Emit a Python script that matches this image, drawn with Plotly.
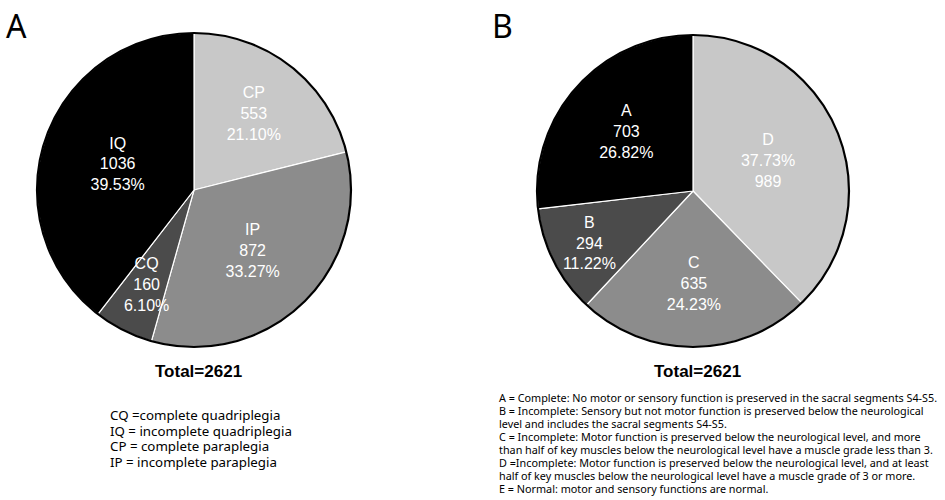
import plotly.graph_objects as go

# ---- data ----
labels_a = ["CP", "IP", "CQ", "IQ"]
values_a = [553, 872, 160, 1036]
labels_b = ["D", "C", "B", "A"]
values_b = [989, 635, 294, 703]
colors = ["#c8c8c8", "#8c8c8c", "#4b4b4b", "#000000"]
total_a = "Total=2621"
total_b = "Total=2621"
legend_a = [
    "CQ =complete quadriplegia",
    "IQ = incomplete quadriplegia",
    "CP = complete paraplegia",
    "IP = incomplete paraplegia",
]
legend_b = [
    "A = Complete: No motor or sensory function is preserved in the sacral segments S4-S5.",
    "B = Incomplete: Sensory but not motor function is preserved below the neurological",
    "level and includes the sacral segments S4-S5.",
    "C = Incomplete: Motor function is preserved below the neurological level, and more",
    "than half of key muscles below the neurological level have a muscle grade less than 3.",
    "D =Incomplete: Motor function is preserved below the neurological level, and at least",
    "half of key muscles below the neurological level have a muscle grade of 3 or more.",
    "E = Normal: motor and sensory functions are normal.",
]

W, H = 945, 500

def dom(cx, cy, r):
    return dict(x=[(cx - r) / W, (cx + r) / W], y=[1 - (cy + r) / H, 1 - (cy - r) / H])

CA, RA = (194, 190), 157
CB, RB = (693, 191), 156
dom_a = dom(CA[0], CA[1], RA)
dom_b = dom(CB[0], CB[1], RB)
dom_a_small = dom(CA[0], CA[1], RA * 0.8)

std = "%{label}<br>%{value}<br>%{percent:.2%}"
tfont = dict(family="Liberation Sans, Arial", size=16, color="white")

fig = go.Figure()
# chart A: the thin CQ slice gets its label from a concentric transparent copy
tmpl_a = [std if lab != "CQ" else "" for lab in labels_a]
tmpl_a_small = ["" if lab != "CQ" else std for lab in labels_a]
fig.add_trace(go.Pie(
    labels=labels_a, values=values_a, sort=False, direction="clockwise", rotation=0,
    marker=dict(colors=colors, line=dict(color="white", width=1.2)),
    texttemplate=tmpl_a, textposition="inside", insidetextorientation="horizontal",
    textfont=tfont, domain=dom_a, showlegend=False, hoverinfo="skip",
))
fig.add_trace(go.Pie(
    labels=labels_a, values=values_a, sort=False, direction="clockwise", rotation=0,
    marker=dict(colors=["rgba(0,0,0,0)"] * 4, line=dict(width=0)),
    texttemplate=tmpl_a_small, textposition="inside", insidetextorientation="horizontal",
    textfont=tfont, domain=dom_a_small, showlegend=False, hoverinfo="skip",
))
fig.add_trace(go.Pie(
    labels=labels_b, values=values_b, sort=False, direction="clockwise", rotation=0,
    marker=dict(colors=colors, line=dict(color="white", width=1.2)),
    texttemplate=["%{label}<br>%{percent:.2%}<br>%{value}", std, std, std],
    textposition="inside", insidetextorientation="horizontal",
    textfont=tfont, domain=dom_b, showlegend=False, hoverinfo="skip",
))

shapes = []
for d in (dom_a, dom_b):
    shapes.append(dict(type="circle", xref="paper", yref="paper",
                       x0=d["x"][0], x1=d["x"][1], y0=d["y"][0], y1=d["y"][1],
                       line=dict(color="black", width=2.2), layer="above"))

ann = []
ann.append(dict(text="A", x=4 / W, y=1 - 25 / H, xanchor="left", yanchor="middle",
                font=dict(family="Noto Sans", size=32, color="black")))
ann.append(dict(text="B", x=490 / W, y=1 - 25 / H, xanchor="left", yanchor="middle",
                font=dict(family="Noto Sans", size=32, color="black")))
ann.append(dict(text="<b>" + total_a + "</b>", x=198 / W, y=1 - 371 / H, xanchor="center",
                yanchor="middle", font=dict(family="Liberation Sans, Arial", size=17, color="black")))
ann.append(dict(text="<b>" + total_b + "</b>", x=697 / W, y=1 - 371 / H, xanchor="center",
                yanchor="middle", font=dict(family="Liberation Sans, Arial", size=17, color="black")))
for i, t in enumerate(legend_a):
    ann.append(dict(text=t, x=108 / W, y=1 - (415 + i * 15.7) / H, xanchor="left", yanchor="middle",
                    font=dict(family="Noto Sans", size=13.3, color="black")))
for i, t in enumerate(legend_b):
    ann.append(dict(text=t, x=497 / W, y=1 - (397 + i * 13.0) / H, xanchor="left", yanchor="middle",
                    font=dict(family="Noto Sans", size=10.8, color="black")))
for a in ann:
    a.update(xref="paper", yref="paper", showarrow=False)

fig.update_layout(
    width=W, height=H, margin=dict(l=0, r=0, t=0, b=0),
    paper_bgcolor="white", plot_bgcolor="white",
    annotations=ann, shapes=shapes,
    uniformtext=dict(minsize=16, mode="show"),
)
fig.write_html("out.html", config={"displayModeBar": False},
               post_script="document.body.style.margin='0';")
